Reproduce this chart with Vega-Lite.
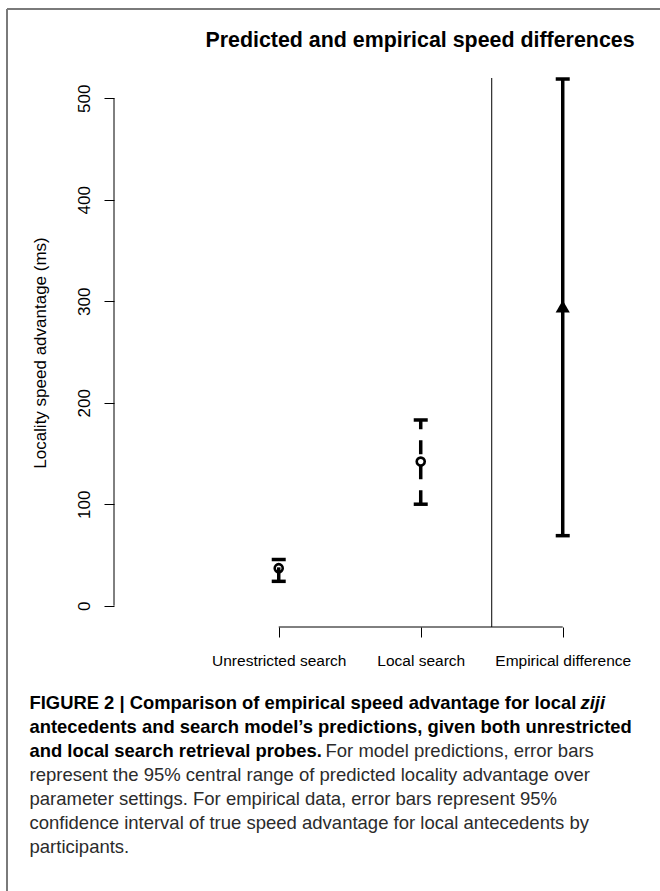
{
  "$schema": "https://vega.github.io/schema/vega-lite/v6.json",
  "width": 546,
  "height": 549,
  "autosize": {"type": "none"},
  "padding": {"left": 114, "top": 78, "right": 0, "bottom": 264},
  "background": "white",
  "config": {"view": {"stroke": null}, "font": "Liberation Sans"},
  "title": {
    "text": "Predicted and empirical speed differences",
    "font": "Liberation Sans",
    "fontSize": 21.4,
    "fontWeight": "bold",
    "color": "black",
    "anchor": "middle",
    "frame": "group",
    "baseline": "alphabetic",
    "offset": 0,
    "dx": 33,
    "dy": 60
  },
  "datasets": {
    "estimates": [
      {"idx": 1, "condition": "Unrestricted search", "source": "model", "est": 37, "lo": 24, "hi": 45.5},
      {"idx": 2, "condition": "Local search", "source": "model", "est": 142, "lo": 100, "hi": 183},
      {"idx": 3, "condition": "Empirical difference", "source": "empirical", "est": 295, "lo": 69, "hi": 519}
    ],
    "caption": [
      {"line": 1, "part": "heading", "text": "FIGURE 2 | Comparison of empirical speed advantage for local"},
      {"line": 1, "part": "heading-italic", "text": "ziji"},
      {"line": 2, "part": "heading", "text": "antecedents and search model’s predictions, given both unrestricted"},
      {"line": 3, "part": "heading", "text": "and local search retrieval probes."},
      {"line": 3, "part": "run-in", "text": "For model predictions, error bars"},
      {"line": 4, "part": "body", "text": "represent the 95% central range of predicted locality advantage over"},
      {"line": 5, "part": "body", "text": "parameter settings. For empirical data, error bars represent 95%"},
      {"line": 6, "part": "body", "text": "confidence interval of true speed advantage for local antecedents by"},
      {"line": 7, "part": "body", "text": "participants."}
    ]
  },
  "resolve": {"scale": {"y": "independent"}},
  "layer": [
    {
      "data": {"name": "estimates"},
      "layer": [
        {
          "mark": {"type": "rule", "color": "black", "strokeWidth": 3.5, "strokeCap": "butt"},
          "encoding": {
            "x": {
              "field": "idx", "type": "quantitative",
              "scale": {"domain": [-0.16, 3.685], "nice": false, "zero": false},
              "axis": {
                "values": [1, 2, 3],
                "labelExpr": "['Unrestricted search', 'Local search', 'Empirical difference'][datum.value - 1]",
                "title": null,
                "domain": false,
                "grid": false,
                "ticks": true,
                "tickSize": 10,
                "tickColor": "black",
                "tickWidth": 1,
                "labelFont": "Liberation Sans",
                "labelFontSize": 15.5,
                "labelColor": "black",
                "labelPadding": 16,
                "labelFlush": false,
                "labelOverlap": false
              }
            },
            "y": {
              "field": "lo", "type": "quantitative",
              "scale": {"domain": [-21, 520], "nice": false, "zero": false},
              "axis": {
                "values": [0, 100, 200, 300, 400, 500],
                "format": "d",
                "title": "Locality speed advantage (ms)",
                "titleFont": "Liberation Sans",
                "titleFontSize": 17,
                "titleFontWeight": "normal",
                "titleColor": "black",
                "titlePadding": 26,
                "domain": false,
                "grid": false,
                "tickSize": 10,
                "tickColor": "black",
                "tickWidth": 1,
                "labelAngle": -90,
                "labelAlign": "center",
                "labelBaseline": "alphabetic",
                "labelPadding": 15,
                "labelFont": "Liberation Sans",
                "labelFontSize": 17,
                "labelColor": "black"
              }
            },
            "y2": {"field": "hi"},
            "strokeDash": {
              "field": "source", "type": "nominal",
              "scale": {"domain": ["model", "empirical"], "range": [[14, 11], [1, 0]]},
              "legend": null
            }
          }
        },
        {
          "data": {"values": [{"frame": "left"}]},
          "mark": {"type": "rule", "color": "#7a7a7a", "strokeWidth": 2},
          "encoding": {
            "x": {"datum": -0.9135, "type": "quantitative", "scale": {"domain": [-0.16, 3.685], "nice": false, "zero": false}},
            "y": {"datum": 588, "type": "quantitative", "scale": {"domain": [-21, 520], "nice": false, "zero": false}},
            "y2": {"datum": -400}
          }
        },
        {
          "data": {"values": [{"frame": "top"}]},
          "mark": {"type": "rule", "color": "#7a7a7a", "strokeWidth": 2},
          "encoding": {
            "x": {"datum": -0.9135, "type": "quantitative", "scale": {"domain": [-0.16, 3.685], "nice": false, "zero": false}},
            "x2": {"datum": 5},
            "y": {"datum": 588, "type": "quantitative", "scale": {"domain": [-21, 520], "nice": false, "zero": false}}
          }
        },
        {
          "data": {"values": [{"axis": "y"}]},
          "mark": {"type": "rule", "color": "black", "strokeWidth": 1},
          "encoding": {
            "x": {"datum": -0.16, "type": "quantitative", "scale": {"domain": [-0.16, 3.685], "nice": false, "zero": false}},
            "y": {"datum": 0, "type": "quantitative", "scale": {"domain": [-21, 520], "nice": false, "zero": false}},
            "y2": {"datum": 500}
          }
        },
        {
          "mark": {"type": "rule", "color": "black", "strokeWidth": 1},
          "encoding": {
            "x": {"aggregate": "min", "field": "idx", "type": "quantitative", "scale": {"domain": [-0.16, 3.685], "nice": false, "zero": false}},
            "x2": {"aggregate": "max", "field": "idx"},
            "y": {"value": "height"}
          }
        },
        {
          "data": {"values": [{"divider": "model | empirical"}]},
          "mark": {"type": "rule", "color": "black", "strokeWidth": 1},
          "encoding": {
            "x": {"datum": 2.5, "type": "quantitative", "scale": {"domain": [-0.16, 3.685], "nice": false, "zero": false}}
          }
        },
        {
          "mark": {"type": "tick", "orient": "horizontal", "color": "black", "size": 14, "thickness": 3.5, "opacity": 1},
          "encoding": {
            "x": {"field": "idx", "type": "quantitative", "scale": {"domain": [-0.16, 3.685], "nice": false, "zero": false}},
            "y": {"field": "lo", "type": "quantitative", "scale": {"domain": [-21, 520], "nice": false, "zero": false}}
          }
        },
        {
          "mark": {"type": "tick", "orient": "horizontal", "color": "black", "size": 14, "thickness": 3.5, "opacity": 1},
          "encoding": {
            "x": {"field": "idx", "type": "quantitative", "scale": {"domain": [-0.16, 3.685], "nice": false, "zero": false}},
            "y": {"field": "hi", "type": "quantitative", "scale": {"domain": [-21, 520], "nice": false, "zero": false}}
          }
        },
        {
          "transform": [{"filter": "datum.source === 'model'"}],
          "mark": {"type": "point", "shape": "circle", "filled": false, "fill": "transparent", "stroke": "black", "strokeWidth": 2.6, "size": 64, "opacity": 1},
          "encoding": {
            "x": {"field": "idx", "type": "quantitative", "scale": {"domain": [-0.16, 3.685], "nice": false, "zero": false}},
            "y": {"field": "est", "type": "quantitative", "scale": {"domain": [-21, 520], "nice": false, "zero": false}}
          }
        },
        {
          "transform": [{"filter": "datum.source === 'empirical'"}],
          "mark": {"type": "point", "shape": "triangle-up", "filled": true, "color": "black", "size": 200, "opacity": 1},
          "encoding": {
            "x": {"field": "idx", "type": "quantitative", "scale": {"domain": [-0.16, 3.685], "nice": false, "zero": false}},
            "y": {"field": "est", "type": "quantitative", "scale": {"domain": [-21, 520], "nice": false, "zero": false}}
          }
        }
      ]
    },
    {
      "data": {"name": "caption"},
      "encoding": {
        "x": {"datum": -0.755, "type": "quantitative", "scale": {"domain": [-0.16, 3.685], "nice": false, "zero": false}},
        "y": {"field": "line", "type": "quantitative", "scale": {"domain": [1, 7], "range": [631, 775], "nice": false, "zero": false}, "axis": null},
        "text": {"field": "text", "type": "nominal"}
      },
      "layer": [
        {
          "transform": [{"filter": "datum.part === 'heading'"}],
          "mark": {"type": "text", "align": "left", "baseline": "alphabetic", "font": "Liberation Sans", "fontSize": 18.4, "fontWeight": "bold", "color": "black"}
        },
        {
          "transform": [{"filter": "datum.part === 'heading-italic'"}],
          "mark": {"type": "text", "align": "left", "baseline": "alphabetic", "font": "Liberation Sans", "fontSize": 18.4, "fontWeight": "bold", "fontStyle": "italic", "color": "black", "dx": 551}
        },
        {
          "transform": [{"filter": "datum.part === 'run-in'"}],
          "mark": {"type": "text", "align": "left", "baseline": "alphabetic", "font": "Liberation Sans", "fontSize": 18.5, "fontWeight": "normal", "color": "#2b2b2b", "dx": 296}
        },
        {
          "transform": [{"filter": "datum.part === 'body'"}],
          "mark": {"type": "text", "align": "left", "baseline": "alphabetic", "font": "Liberation Sans", "fontSize": 18.5, "fontWeight": "normal", "color": "#2b2b2b"}
        }
      ]
    }
  ]
}
